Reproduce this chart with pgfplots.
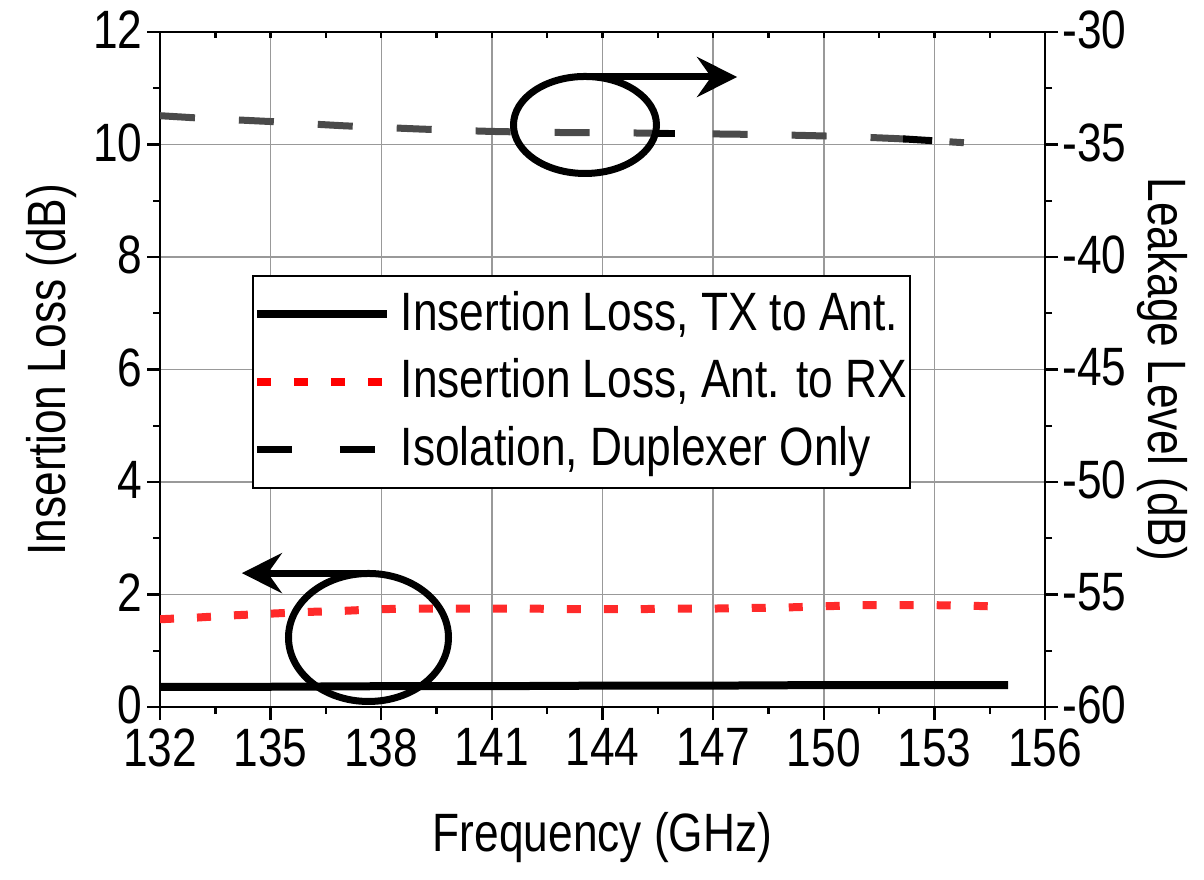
\documentclass[border=0pt]{standalone}
\usepackage{fontspec}
\setmainfont{Liberation Sans}[FakeStretch=0.82]
\usepackage{pgfplots}
\pgfplotsset{compat=1.18}
\usetikzlibrary{arrows.meta}
\newcommand{\bigf}{\fontsize{27}{33.75}\selectfont}
\definecolor{isogray}{HTML}{4A4A4A}
\definecolor{rxred}{HTML}{FF2A2A}
\pgfplotsset{
  common/.style={
    at={(80pt,86pt)}, anchor=south west, scale only axis,
    width=442.5pt, height=337.5pt,
    xmin=132, xmax=156,
    /pgf/number format/assume math mode=true,
    ticklabel style={font=\bigf},
    label style={font=\bigf},
    axis line style={line width=1.4pt},
    every tick/.style={black, line width=1.2pt},
    major tick length=6.5pt, minor tick length=3.5pt,
  }
}
\begin{document}
\begin{tikzpicture}
\useasboundingbox (0,0) rectangle (602pt,439.5pt);
% left axis
\begin{axis}[common,
  ymin=0, ymax=12,
  xtick={132,135,...,156}, ytick={0,2,...,12},
  minor x tick num=1, minor y tick num=1,
  tick align=outside, xtick pos=bottom, ytick pos=left,
  xticklabel style={inner sep=0pt, yshift=-4pt},
  yticklabel style={inner sep=0pt, xshift=-2pt, yshift=1pt},
  grid=major, major grid style={color=black!40, line width=0.75pt},
  xlabel={Frequency (GHz)}, ylabel={Insertion Loss (dB)},
  xlabel style={at={(axis description cs:0.5,-0.2148)}, anchor=base},
  ylabel style={at={(axis description cs:-0.1073,0.5)}, anchor=base},
]
\addplot[black, line width=4pt] coordinates {
 (132,0.36) (135,0.36) (138,0.37) (141,0.37) (144,0.38) (147,0.38) (150,0.39) (153,0.39) (155,0.39)};
\addplot[rxred, line width=4pt, dash pattern=on 7pt off 11.5pt] coordinates {
 (132,1.56) (133,1.59) (134,1.63) (135,1.66) (136,1.69) (137,1.71) (138,1.74) (139,1.75)
 (140,1.75) (141,1.75) (142,1.75) (143,1.74) (144,1.74) (145,1.74) (146,1.75) (147,1.75)
 (148,1.76) (149,1.77) (150,1.79) (151,1.81) (152,1.81) (153,1.81) (154,1.80) (155,1.78)};
\end{axis}
% right axis
\begin{axis}[common,
  ymin=-60, ymax=-30,
  ytick={-60,-55,...,-30}, minor y tick num=1,
  tick align=outside,
  axis y line*=right, hide x axis,
  yticklabel style={inner sep=0pt, xshift=2pt, yshift=1pt},
  ylabel={Leakage Level (dB)},
  ylabel style={at={(axis description cs:1.1164,0.5)}, anchor=base, rotate=180},
]
\addplot[isogray, line width=3.5pt, dash pattern=on 17.5pt off 22pt] coordinates {
 (132,-33.72) (133,-33.82) (134,-33.90) (135,-33.98) (136,-34.08) (137,-34.17) (138,-34.24)
 (139,-34.31) (140,-34.37) (141,-34.42) (142,-34.45) (143,-34.47) (144,-34.48) (145,-34.49)
 (146,-34.51) (147,-34.53) (148,-34.55) (149,-34.58) (150,-34.62) (151,-34.67) (152,-34.74)
 (153,-34.84) (153.8,-34.92)};
\addplot[black, line width=3.5pt] coordinates {(152.15,-34.75) (152.94,-34.83)};
\end{axis}
% top ticks, annotations and legend
\begin{axis}[common,
  ymin=0, ymax=12,
  xtick={132,135,...,156}, minor x tick num=1,
  tick align=inside, xtick pos=top, xticklabels={},
  major tick length=3pt, minor tick length=3pt,
  ytick=\empty, axis line style={draw=none},
  clip=false,
  legend image code/.code={\draw[#1] (0pt,0pt) -- (65pt,0pt);},
  legend cell align=left,
  legend style={at={(axis description cs:0.104,0.64)}, anchor=north west,
    font=\bigf, draw=black, line width=0.8pt, fill=white,
    inner xsep=0pt, inner ysep=2.4pt, column sep=3.5pt,
    nodes={inner xsep=1.5pt, inner ysep=3.9pt, text height=21pt, text depth=5pt}},
]
\addlegendimage{black, line width=4pt}
\addlegendentry{Insertion Loss, TX to Ant.\hspace{4pt}}
\addlegendimage{red, line width=4pt, dash pattern=on 7pt off 11.5pt}
\addlegendentry{Insertion Loss, Ant. to RX}
\addlegendimage{black, line width=3.5pt, dash pattern=on 17.5pt off 24pt}
\addlegendentry{Isolation, Duplexer Only}
% annotations
\draw[line width=3.5pt] (axis cs:143.525,10.347) ellipse [x radius=35.75pt, y radius=24.25pt];
\draw[line width=3.5pt, -{Stealth[length=20pt,width=20pt,inset=7pt]}] (axis cs:143.4,11.2) -- (axis cs:147.65,11.2);
\draw[line width=3.5pt] (axis cs:145.45,10.204) -- (axis cs:145.97,10.204);
\draw[line width=3.5pt] (axis cs:137.654,1.236) ellipse [x radius=40pt, y radius=32pt];
\draw[line width=3.5pt, -{Stealth[length=20pt,width=20pt,inset=7pt]}] (axis cs:137.8,2.38) -- (axis cs:134.22,2.38);
\end{axis}
\end{tikzpicture}
\end{document}
